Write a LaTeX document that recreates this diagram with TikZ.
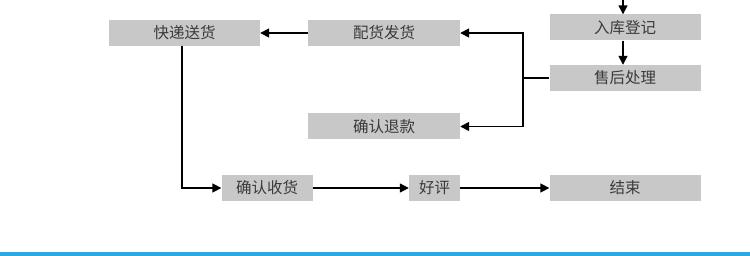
\documentclass[tikz,border=0pt]{standalone}
\usepackage{fontspec}
\newfontfamily\cjk{Noto Sans CJK SC}
\usetikzlibrary{arrows.meta}
\definecolor{boxgray}{HTML}{C8C8C8}
\definecolor{txtgray}{HTML}{3A3A3A}
\definecolor{barblue}{HTML}{29A9E0}
\begin{document}
\begin{tikzpicture}[x=1pt,y=1pt,
  flowbox/.style={fill=boxgray,inner sep=0pt,minimum height=26pt,text=txtgray,font=\cjk\fontsize{15.5}{16}\selectfont},
  conn/.style={line width=1.6pt,-{Triangle[length=9pt,width=9pt]}},
  plainconn/.style={line width=1.6pt}]
\useasboundingbox (0,0) rectangle (750,-256);
\node[flowbox,minimum width=151pt] (kd) at (184.5,-33) {快递送货};
\node[flowbox,minimum width=152pt] (ph) at (384,-33) {配货发货};
\node[flowbox,minimum width=152pt] (tk) at (384,-126.5) {确认退款};
\node[flowbox,minimum width=151pt] (rk) at (625,-27.5) {入库登记};
\node[flowbox,minimum width=151pt] (sh) at (625,-78) {售后处理};
\node[flowbox,minimum width=91pt] (qr) at (267,-188) {确认收货};
\node[flowbox,minimum width=51pt] (hp) at (434.5,-188) {好评};
\node[flowbox,minimum width=151pt] (js) at (625,-188) {结束};
\coordinate (top) at (623,0);
\coordinate (jn) at (523,-78);
\coordinate (kdb) at (182,-46);
\draw[conn] (top) -- (top |- rk.north);
\draw[conn] (rk.south -| top) -- (sh.north -| top);
\draw[plainconn] (sh.west) -- (jn);
\draw[conn] (jn) |- (ph.east);
\draw[conn] (jn) |- (tk.east);
\draw[conn] (ph.west) -- (kd.east);
\draw[conn] (kdb) |- (qr.west);
\draw[conn] (qr.east) -- (hp.west);
\draw[conn] (hp.east) -- (js.west);
\fill[barblue] (0,-252.5) rectangle (750,-256);
\end{tikzpicture}
\end{document}
